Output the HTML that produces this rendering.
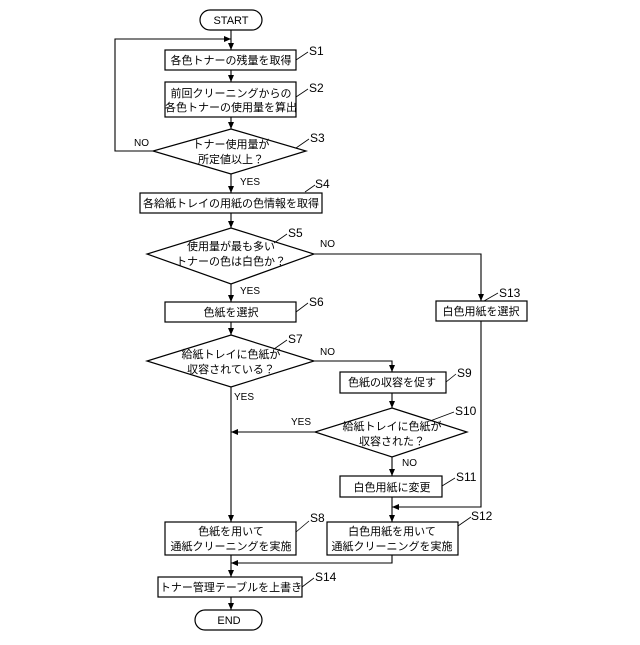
<!DOCTYPE html>
<html><head><meta charset="utf-8"><style>
body{margin:0;background:#fff}
svg text{font-family:"Liberation Sans","Noto Sans CJK JP",sans-serif;font-size:11px;fill:#000}
</style></head><body>
<svg width="640" height="640" viewBox="0 0 640 640" xmlns="http://www.w3.org/2000/svg">
<defs><marker id="a" markerWidth="8" markerHeight="8" refX="7" refY="4" orient="auto" markerUnits="userSpaceOnUse"><path d="M0,1 L7,4 L0,7 z" fill="#000"/></marker></defs>
<g fill="none" stroke="#000" stroke-width="1.2">
<rect x="200" y="10" width="62" height="20" rx="10"/>
<rect x="165" y="50" width="131" height="20"/>
<rect x="165" y="82" width="131" height="35"/>
<polygon points="231,129 306,151 231,174 153,151"/>
<rect x="140" y="193" width="182" height="20"/>
<polygon points="231,228 314,254 231,284 147,254"/>
<rect x="165" y="302" width="131" height="20"/>
<rect x="436" y="301" width="91" height="20"/>
<polygon points="231,335 314,361 231,387 147,361"/>
<rect x="340" y="372" width="106" height="21"/>
<polygon points="392,408 467,432 392,457 315,432"/>
<rect x="340" y="476" width="102" height="21"/>
<rect x="165" y="522" width="131" height="33"/>
<rect x="327" y="522" width="131" height="33"/>
<rect x="158" y="577" width="144" height="20"/>
<rect x="195" y="610" width="67" height="20" rx="10"/>
</g>
<g fill="none" stroke="#000" stroke-width="1.1" marker-end="url(#a)">
<line x1="231" y1="30" x2="231" y2="50"/>
<line x1="231" y1="70" x2="231" y2="82"/>
<line x1="231" y1="117" x2="231" y2="129"/>
<polyline points="153,151 115,151 115,39 231,39"/>
<line x1="231" y1="174" x2="231" y2="193"/>
<line x1="231" y1="213" x2="231" y2="228"/>
<line x1="231" y1="284" x2="231" y2="302"/>
<polyline points="314,254 481,254 481,301"/>
<line x1="231" y1="322" x2="231" y2="335"/>
<polyline points="314,361 392,361 392,372"/>
<line x1="392" y1="393" x2="392" y2="408"/>
<line x1="315" y1="432" x2="231" y2="432"/>
<line x1="231" y1="387" x2="231" y2="522"/>
<line x1="392" y1="457" x2="392" y2="476"/>
<line x1="392" y1="497" x2="392" y2="522"/>
<polyline points="481,321 481,507 392,507"/>
<polyline points="392,555 392,563 231,563"/>
<line x1="231" y1="555" x2="231" y2="577"/>
<line x1="231" y1="597" x2="231" y2="610"/>
</g>
<g stroke="#000" stroke-width="0.8">
<line x1="296" y1="60" x2="308" y2="52"/>
<line x1="296" y1="97" x2="308" y2="89"/>
<line x1="296" y1="148" x2="309" y2="139"/>
<line x1="305" y1="192" x2="315" y2="185"/>
<line x1="274" y1="243" x2="287" y2="234"/>
<line x1="296" y1="312" x2="308" y2="303"/>
<line x1="274" y1="349" x2="287" y2="340"/>
<line x1="446" y1="382" x2="456" y2="374"/>
<line x1="430" y1="421" x2="454" y2="412"/>
<line x1="442" y1="486" x2="455" y2="478"/>
<line x1="296" y1="532" x2="309" y2="521"/>
<line x1="458" y1="526" x2="471" y2="517"/>
<line x1="302" y1="587" x2="314" y2="578"/>
<line x1="484" y1="301" x2="498" y2="293"/>
</g>
<g text-anchor="middle">
<text x="231" y="24">START</text>
<text x="231" y="64">各色トナーの残量を取得</text>
<text x="231" y="97">前回クリーニングからの</text>
<text x="231" y="111">各色トナーの使用量を算出</text>
<text x="231" y="148">トナー使用量が</text>
<text x="231" y="163">所定値以上？</text>
<text x="231" y="207">各給紙トレイの用紙の色情報を取得</text>
<text x="231" y="250">使用量が最も多い</text>
<text x="231" y="265">トナーの色は白色か？</text>
<text x="231" y="316">色紙を選択</text>
<text x="481" y="315">白色用紙を選択</text>
<text x="231" y="358">給紙トレイに色紙が</text>
<text x="231" y="373">収容されている？</text>
<text x="392" y="386">色紙の収容を促す</text>
<text x="392" y="430">給紙トレイに色紙が</text>
<text x="392" y="445">収容された？</text>
<text x="392" y="491">白色用紙に変更</text>
<text x="231" y="535">色紙を用いて</text>
<text x="231" y="550">通紙クリーニングを実施</text>
<text x="392" y="535">白色用紙を用いて</text>
<text x="392" y="550">通紙クリーニングを実施</text>
<text x="231" y="591">トナー管理テーブルを上書き</text>
<text x="229" y="624">END</text>
</g>
<g font-size="10">
<text x="134" y="146" style="font-size:10px">NO</text>
<text x="240" y="185" style="font-size:10px">YES</text>
<text x="320" y="247" style="font-size:10px">NO</text>
<text x="240" y="294" style="font-size:10px">YES</text>
<text x="320" y="355" style="font-size:10px">NO</text>
<text x="234" y="400" style="font-size:10px">YES</text>
<text x="291" y="425" style="font-size:10px">YES</text>
<text x="402" y="466" style="font-size:10px">NO</text>
</g>
<g style="font-size:12px">
<text x="309" y="55" style="font-size:12px">S1</text>
<text x="309" y="92" style="font-size:12px">S2</text>
<text x="310" y="142" style="font-size:12px">S3</text>
<text x="315" y="188" style="font-size:12px">S4</text>
<text x="288" y="237" style="font-size:12px">S5</text>
<text x="309" y="306" style="font-size:12px">S6</text>
<text x="288" y="343" style="font-size:12px">S7</text>
<text x="457" y="377" style="font-size:12px">S9</text>
<text x="455" y="415" style="font-size:12px">S10</text>
<text x="456" y="481" style="font-size:12px">S11</text>
<text x="310" y="522" style="font-size:12px">S8</text>
<text x="471" y="520" style="font-size:12px">S12</text>
<text x="315" y="581" style="font-size:12px">S14</text>
<text x="499" y="297" style="font-size:12px">S13</text>
</g>
</svg>
</body></html>
